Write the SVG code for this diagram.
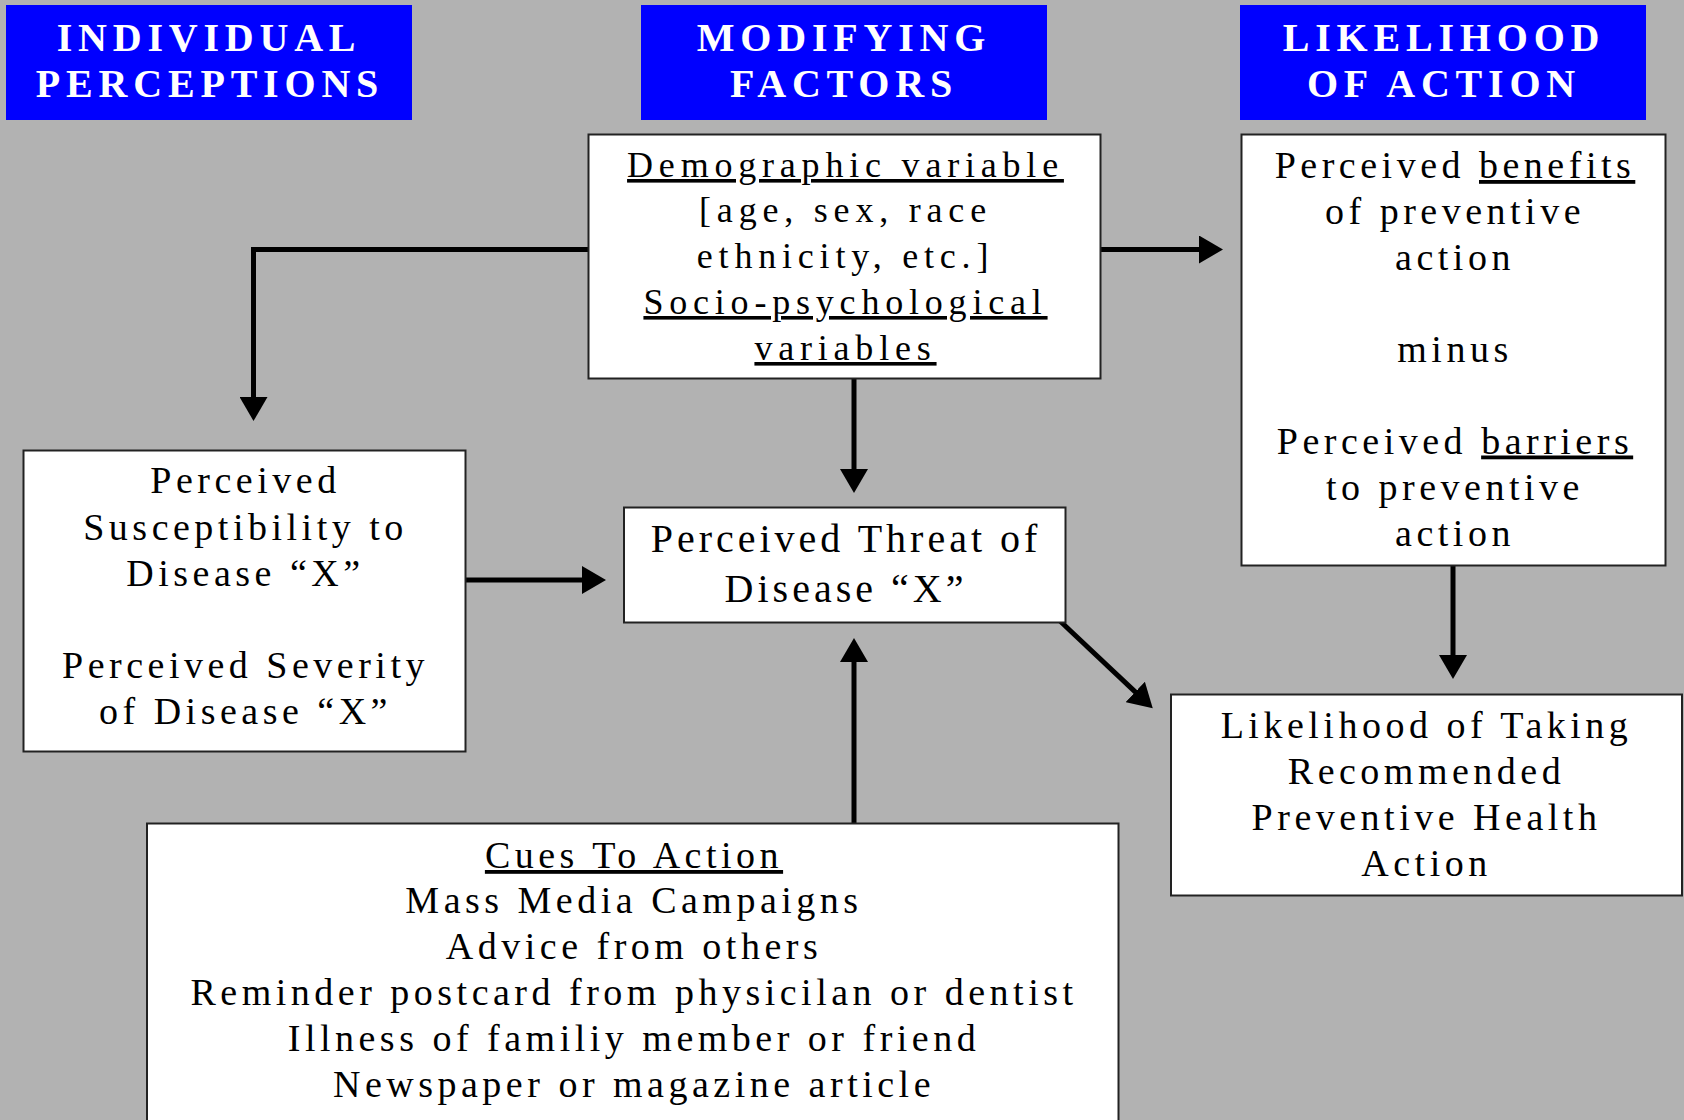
<svg xmlns="http://www.w3.org/2000/svg" width="1684" height="1120" viewBox="0 0 1684 1120">
<style>
.hdr{fill:#0000ff}
.ht{font-family:"Liberation Serif","Times New Roman",serif;font-weight:bold;font-size:40px;letter-spacing:5.8px;fill:#ffffff;text-anchor:middle}
.box{fill:#ffffff;stroke:#222222;stroke-width:2}
.t{font-family:"Liberation Serif","Times New Roman",serif;font-size:38px;letter-spacing:4.5px;fill:#000000;text-anchor:middle}
.td{font-size:36px;letter-spacing:5.8px}
.tt{font-size:40px;letter-spacing:4px}
.u{text-decoration:underline}
.c{fill:none;stroke:#000000;stroke-width:5;stroke-linejoin:miter}
</style>
<defs>
<marker id="ah" viewBox="0 0 24 28" refX="1" refY="14" markerWidth="24" markerHeight="28" markerUnits="userSpaceOnUse" orient="auto">
<path d="M0,0 L24,14 L0,28 Z" fill="#000000"/>
</marker>
</defs>
<rect x="0" y="0" width="1684" height="1120" fill="#b2b2b2"/>
<g id="connectors">
<path class="c" d="M590,249.5 H253.5 V398" marker-end="url(#ah)"/>
<path class="c" d="M1101,249.5 H1200" marker-end="url(#ah)"/>
<path class="c" d="M854,378 V470" marker-end="url(#ah)"/>
<path class="c" d="M466,580 H583" marker-end="url(#ah)"/>
<path class="c" d="M854,824 V661" marker-end="url(#ah)"/>
<path class="c" d="M1060,621 L1136,692.6" marker-end="url(#ah)"/>
<path class="c" d="M1453,566 V656" marker-end="url(#ah)"/>
</g>
<g id="hdr-individual">
<rect class="hdr" x="6" y="5" width="406" height="115"/>
<text class="ht" x="209" y="51">INDIVIDUAL</text>
<text class="ht" x="210" y="97">PERCEPTIONS</text>
</g>
<g id="hdr-modifying">
<rect class="hdr" x="641" y="5" width="406" height="115"/>
<text class="ht" x="844" y="51">MODIFYING</text>
<text class="ht" x="844" y="97">FACTORS</text>
</g>
<g id="hdr-likelihood">
<rect class="hdr" x="1240" y="5" width="406" height="115"/>
<text class="ht" x="1444" y="51">LIKELIHOOD</text>
<text class="ht" x="1444" y="97">OF ACTION</text>
</g>
<g id="node-demographic">
<rect class="box" x="588.5" y="134.5" width="512" height="244"/>
<text class="t td" x="845.5" y="177"><tspan class="u">Demographic variable</tspan></text>
<text class="t td" x="845.5" y="222">[age, sex, race</text>
<text class="t td" x="845.5" y="268">ethnicity, etc.]</text>
<text class="t td" x="845.5" y="314"><tspan class="u">Socio-psychological</tspan></text>
<text class="t td" x="845.5" y="360"><tspan class="u">variables</tspan></text>
</g>
<g id="node-benefits">
<rect class="box" x="1241.5" y="134.5" width="424" height="431"/>
<text class="t" x="1455" y="178">Perceived <tspan class="u">benefits</tspan></text>
<text class="t" x="1455" y="224">of preventive</text>
<text class="t" x="1455" y="270">action</text>
<text class="t" x="1455" y="362">minus</text>
<text class="t" x="1455" y="453.5">Perceived <tspan class="u">barriers</tspan></text>
<text class="t" x="1455" y="499.5">to preventive</text>
<text class="t" x="1455" y="545.5">action</text>
</g>
<g id="node-susceptibility">
<rect class="box" x="23.5" y="450.5" width="442" height="301"/>
<text class="t" x="245.5" y="493">Perceived</text>
<text class="t" x="245.5" y="539.5">Susceptibility to</text>
<text class="t" x="245.5" y="585.5">Disease “X”</text>
<text class="t" x="245.5" y="677.5">Perceived Severity</text>
<text class="t" x="245.5" y="723.5">of Disease “X”</text>
</g>
<g id="node-threat">
<rect class="box" x="624" y="507.5" width="441.5" height="115"/>
<text class="t tt" x="846" y="551.5">Perceived Threat of</text>
<text class="t tt" x="846" y="601.5">Disease “X”</text>
</g>
<g id="node-likelihood">
<rect class="box" x="1171" y="694.5" width="511" height="201"/>
<text class="t" x="1426.5" y="738">Likelihood of Taking</text>
<text class="t" x="1426.5" y="784">Recommended</text>
<text class="t" x="1426.5" y="830">Preventive Health</text>
<text class="t" x="1426.5" y="876">Action</text>
</g>
<g id="node-cues">
<rect class="box" x="147" y="823.5" width="971.5" height="310"/>
<text class="t" x="634" y="868"><tspan class="u">Cues To Action</tspan></text>
<text class="t" x="634" y="913">Mass Media Campaigns</text>
<text class="t" x="634" y="959">Advice from others</text>
<text class="t" x="634" y="1005">Reminder postcard from physicilan or dentist</text>
<text class="t" x="634" y="1051">Illness of familiy member or friend</text>
<text class="t" x="634" y="1097">Newspaper or magazine article</text>
</g>
</svg>
